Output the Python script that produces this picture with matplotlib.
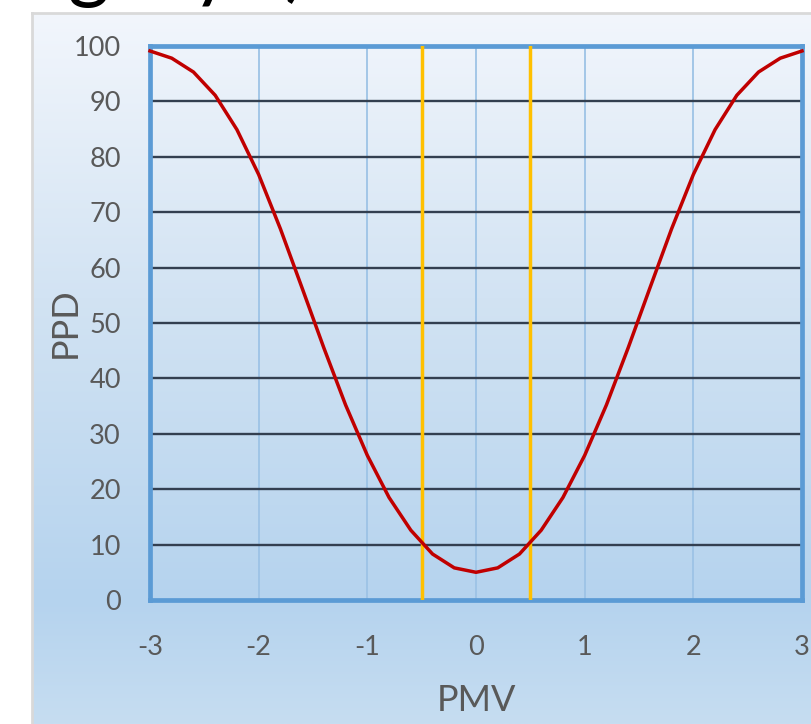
import numpy as np
import matplotlib
matplotlib.use("Agg")
import matplotlib.pyplot as plt
from matplotlib.colors import LinearSegmentedColormap

plt.rcParams['font.family'] = ['Lato', 'DejaVu Sans']

# PMV / PPD values
pmv = [-3.0, -2.8, -2.6, -2.4, -2.2, -2.0, -1.8, -1.6, -1.4, -1.2, -1.0,
       -0.8, -0.6, -0.4, -0.2, 0.0, 0.2, 0.4, 0.6, 0.8, 1.0,
       1.2, 1.4, 1.6, 1.8, 2.0, 2.2, 2.4, 2.6, 2.8, 3.0]
ppd = [99.1, 97.8, 95.3, 91.1, 84.9, 76.8, 67.0, 56.3, 45.5, 35.2, 26.1,
       18.5, 12.6, 8.3, 5.8, 5.0, 5.8, 8.3, 12.6, 18.5, 26.1,
       35.2, 45.5, 56.3, 67.0, 76.8, 84.9, 91.1, 95.3, 97.8, 99.1]
comfort_limits = [-0.5, 0.5]
x_ticks = [-3, -2, -1, 0, 1, 2, 3]
y_ticks = [0, 10, 20, 30, 40, 50, 60, 70, 80, 90, 100]

W, H = 811, 724
fig = plt.figure(figsize=(W / 100, H / 100), dpi=100)
fig.patch.set_facecolor('white')

# chart area with vertical gradient
bg = fig.add_axes([32 / W, 0, 1 - 32 / W, (H - 13) / H])
cmap = LinearSegmentedColormap.from_list(
    'bg', [(0.0, '#F2F6FC'), (0.40, '#D2E3F3'), (0.826, '#B5D3EE'), (1.0, '#C6DDF1')])
grad = np.linspace(0, 1, 256).reshape(-1, 1)
bg.imshow(grad, aspect='auto', cmap=cmap, extent=[0, 1, 0, 1], origin='upper')
bg.set_xlim(0, 1); bg.set_ylim(0, 1)
bg.set_xticks([]); bg.set_yticks([])
for s in ['right', 'bottom']:
    bg.spines[s].set_visible(False)
for s in ['left', 'top']:
    bg.spines[s].set_color('#D9D9D9')
    bg.spines[s].set_linewidth(2)

# title above the chart, only its descenders show in the crop
for tx, ch in [(88, 'g'), (212, 'y'), (295, ')')]:
    fig.text(tx / W, 1 + 8 / H, ch, ha='center', va='baseline', fontsize=58,
             color='black')

ax = fig.add_axes([150 / W, 1 - 600 / H, (802 - 150) / W, (600 - 46) / H])
ax.patch.set_alpha(0)
ax.set_xlim(-3, 3)
ax.set_ylim(0, 100)
ax.set_xticks(x_ticks)
ax.set_yticks(y_ticks)
ax.set_xticklabels([str(v) for v in x_ticks])
ax.tick_params(length=0, labelsize=19.5, labelcolor='#595959')
ax.tick_params(axis='x', pad=25)
ax.tick_params(axis='y', pad=21)

for v in x_ticks[1:-1]:
    ax.axvline(v, color='#9DC3E6', lw=1.3, zorder=1)
for v in y_ticks[1:-1]:
    ax.axhline(v, color='#333F50', lw=1.7, zorder=1)

for s in ax.spines.values():
    s.set_color('#5B9BD5')
    s.set_linewidth(3.4)
ax.axhline(0, color='#A6A6A6', lw=1.2, zorder=2)
ax.axvline(-3, color='#A6A6A6', lw=1.2, zorder=2)

for v in comfort_limits:
    ax.axvline(v, color='#FFC000', lw=2.5, zorder=3)

ax.plot(pmv, ppd, color='#C00000', lw=2.5, zorder=4, clip_on=False)

ax.set_xlabel('PMV', fontsize=26, color='#595959')
ax.set_ylabel('PPD', fontsize=26, color='#595959')
ax.xaxis.set_label_coords(0.5, -0.152)
ax.yaxis.set_label_coords(-0.104, 0.5)

fig.savefig('out.png', dpi=100, facecolor=fig.get_facecolor())
